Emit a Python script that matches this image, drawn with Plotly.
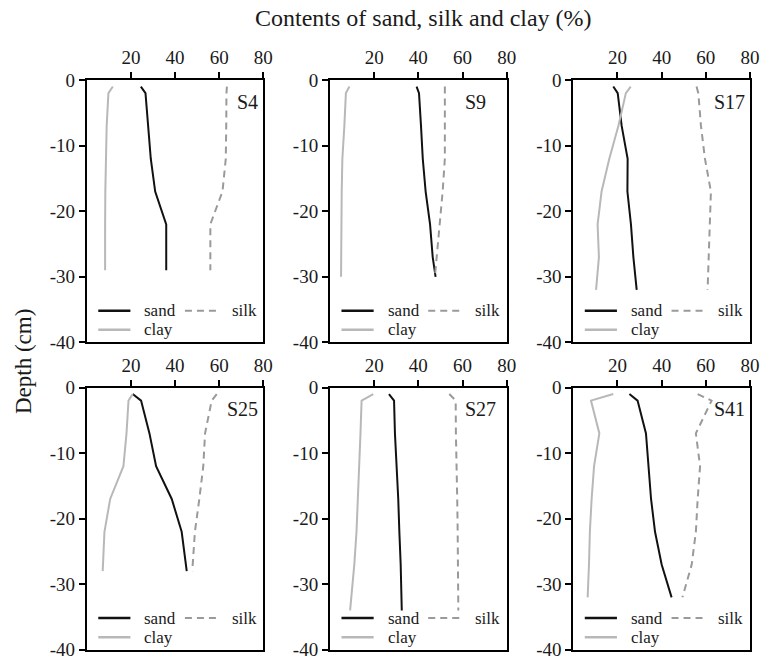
import plotly.graph_objects as go

# ---------------- data ----------------
stations = ["S4", "S9", "S17", "S25", "S27", "S41"]

depth_S4 = [-1, -2, -7, -12, -17, -22, -29]
sand_S4 = [24.5, 26.6, 27.8, 29.0, 31.0, 36.0, 36.0]
silk_S4 = [63.5, 63.3, 63.2, 63.0, 61.5, 56.0, 56.0]
clay_S4 = [11.8, 9.8, 9.0, 8.6, 8.4, 8.3, 8.3]

depth_S9 = [-1, -2, -7, -12, -17, -22, -27, -30]
sand_S9 = [39.2, 40.3, 41.2, 42.0, 43.3, 45.3, 46.5, 47.8]
silk_S9 = [52.0, 52.0, 52.0, 52.0, 51.0, 49.5, 48.3, 47.5]
clay_S9 = [8.8, 7.2, 6.5, 5.6, 5.3, 5.2, 5.1, 5.0]

depth_S17 = [-1, -2, -7, -12, -17, -22, -27, -32]
sand_S17 = [18.1, 20.1, 21.9, 24.6, 24.5, 26.1, 27.2, 28.7]
silk_S17 = [55.8, 56.6, 57.8, 59.6, 62.3, 61.9, 61.3, 60.8]
clay_S17 = [26.0, 23.8, 20.4, 16.3, 12.8, 11.0, 11.6, 10.3]

depth_S25 = [-1, -2, -7, -12, -17, -22, -28]
sand_S25 = [20.8, 24.6, 28.4, 31.4, 38.5, 43.0, 45.3]
silk_S25 = [58.9, 56.6, 53.6, 52.8, 51.0, 49.0, 47.8]
clay_S25 = [20.8, 18.9, 18.0, 16.6, 10.6, 8.0, 7.2]

depth_S27 = [-1, -2, -7, -12, -17, -22, -27, -34]
sand_S27 = [26.7, 29.0, 29.4, 30.2, 30.9, 31.4, 32.0, 32.5]
silk_S27 = [54.0, 56.9, 57.0, 57.4, 57.6, 57.8, 58.0, 58.1]
clay_S27 = [19.6, 14.3, 13.8, 13.3, 12.6, 12.0, 11.0, 9.1]

depth_S41 = [-1, -2, -7, -12, -17, -22, -27, -32]
sand_S41 = [25.4, 29.1, 32.9, 34.0, 35.2, 37.0, 40.0, 44.5]
silk_S41 = [56.3, 62.6, 55.5, 57.4, 56.3, 55.5, 53.6, 49.4]
clay_S41 = [18.1, 8.0, 11.8, 9.4, 8.3, 7.5, 7.1, 6.5]

x_tickvals = [20, 40, 60, 80]
y_tickvals = [0, -10, -20, -30, -40]
y_ticktext = ["0", "-10", "-20", "-30", "-40"]
series_names = ["sand", "silk", "clay"]

data = {
    "S4": (depth_S4, sand_S4, silk_S4, clay_S4),
    "S9": (depth_S9, sand_S9, silk_S9, clay_S9),
    "S17": (depth_S17, sand_S17, silk_S17, clay_S17),
    "S25": (depth_S25, sand_S25, silk_S25, clay_S25),
    "S27": (depth_S27, sand_S27, silk_S27, clay_S27),
    "S41": (depth_S41, sand_S41, silk_S41, clay_S41),
}

# ---------------- styles / layout ----------------
W, H = 772, 661
FONT = "Liberation Serif"
TXT = "#1a1a1a"
styles = {
    "sand": dict(color="#111111", width=2, dash="solid"),
    "silk": dict(color="#9a9a9a", width=2, dash="7px,5px"),
    "clay": dict(color="#b8b8b8", width=2, dash="solid"),
}

# panel edges in page pixels
col_px = [(86.8, 263.3), (330.0, 506.7), (573.3, 750.0)]
row_px = [(80.0, 342.4), (387.5, 649.8)]
label_x = [0.845, 0.758, 0.789, 0.789, 0.758, 0.789]

fig = go.Figure()
annotations = []
shapes = []

for i, st in enumerate(stations):
    n = i + 1
    r, c = divmod(i, 3)
    xs = "" if n == 1 else str(n)
    depth, sand, silk, clay = data[st]
    for name, vals in zip(series_names, (sand, silk, clay)):
        fig.add_trace(go.Scatter(
            x=vals, y=depth, mode="lines", name=name, showlegend=False,
            line=styles[name], xaxis="x" + xs, yaxis="y" + xs,
            hoverinfo="x+y+name"))

    x0, x1 = col_px[c]
    yt, yb = row_px[r]
    axis_common = dict(
        showline=True, linecolor="black", linewidth=2, mirror=True,
        ticks="outside", ticklen=6, tickwidth=1.5, tickcolor="black",
        showgrid=False, zeroline=False, automargin=False,
        ticklabeloverflow="allow",
        tickfont=dict(family=FONT, size=19, color=TXT),
    )
    fig.update_layout(**{
        "xaxis" + xs: dict(axis_common, domain=[x0 / W, x1 / W], range=[0, 80],
                           side="top", tickvals=x_tickvals,
                           anchor="y" + xs),
        "yaxis" + xs: dict(axis_common, domain=[1 - yb / H, 1 - yt / H],
                           range=[-40, 0], tickvals=y_tickvals,
                           ticktext=y_ticktext, anchor="x" + xs),
    })

    xd, yd = "x" + xs + " domain", "y" + xs + " domain"
    # station label
    annotations.append(dict(text=st, xref=xd, yref=yd, x=label_x[i], y=0.918,
                            xanchor="left", yanchor="middle", showarrow=False,
                            borderpad=0,
                            font=dict(family=FONT, size=20, color=TXT)))
    # in-panel legend (two columns: sand/clay, silk)
    leg = [("sand", 0.065, 0.247, 0.32, 0.121),
           ("silk", 0.556, 0.736, 0.815, 0.121),
           ("clay", 0.065, 0.247, 0.32, 0.048)]
    for name, lx0, lx1, tx, ly in leg:
        s = styles[name]
        shapes.append(dict(type="line", xref=xd, yref=yd, x0=lx0, x1=lx1,
                           y0=ly, y1=ly,
                           line=dict(color=s["color"],
                                     width=2.5 if name != "silk" else 2,
                                     dash=s["dash"])))
        annotations.append(dict(text=name, xref=xd, yref=yd, x=tx, y=ly,
                                xanchor="left", yanchor="middle", showarrow=False,
                                borderpad=0,
                                font=dict(family=FONT, size=17, color=TXT)))

annotations.append(dict(text="Contents of sand, silk and clay (%)", xref="paper",
                        yref="paper", x=424 / W, y=1 - 18 / H, xanchor="center",
                        yanchor="middle", showarrow=False, borderpad=0,
                        font=dict(family=FONT, size=24, color=TXT)))
annotations.append(dict(text="Depth (cm)", xref="paper", yref="paper",
                        x=23 / W, y=1 - 362 / H, xanchor="center",
                        yanchor="middle", showarrow=False, textangle=-90,
                        borderpad=0,
                        font=dict(family=FONT, size=23, color=TXT)))

fig.update_layout(
    width=W, height=H,
    margin=dict(l=0, r=0, t=0, b=0),
    paper_bgcolor="white", plot_bgcolor="white",
    showlegend=False,
    annotations=annotations, shapes=shapes,
    font=dict(family=FONT, color=TXT),
)

# place the figure at the page's top-left corner (no default body margin)
fig.write_html("out.html",
               config={"displayModeBar": False},
               post_script="document.body.style.margin='0px';")
